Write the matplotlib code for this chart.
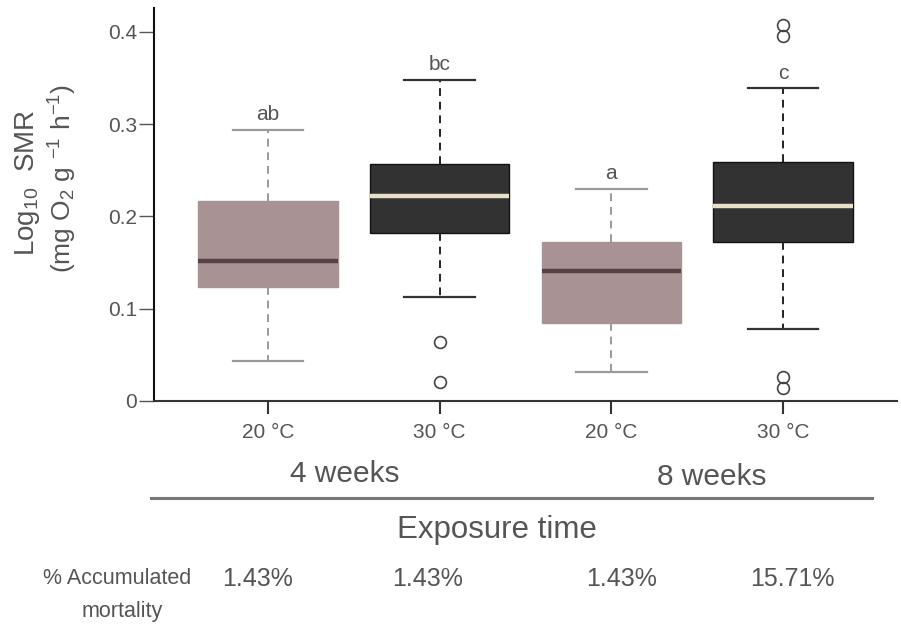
import matplotlib
matplotlib.use("Agg")
import matplotlib.pyplot as plt
from matplotlib.lines import Line2D

plt.rcParams['font.family'] = ['Liberation Sans', 'DejaVu Sans']
plt.rcParams['mathtext.default'] = 'regular'

# ---- data ----
tick_labels = ["20 °C", "30 °C", "20 °C", "30 °C"]
groups = ["4 weeks", "8 weeks"]
letters = ["ab", "bc", "a", "c"]
mortality = ["1.43%", "1.43%", "1.43%", "15.71%"]
whislo = [0.043, 0.113, 0.031, 0.078]
q1 = [0.124, 0.182, 0.085, 0.172]
med = [0.152, 0.222, 0.141, 0.211]
q3 = [0.217, 0.257, 0.172, 0.259]
whishi = [0.294, 0.348, 0.230, 0.339]
fliers = [[], [0.064, 0.021], [], [0.408, 0.396, 0.026, 0.014]]

W, H = 901, 625
fig = plt.figure(figsize=(W / 100, H / 100), dpi=100)
ax = fig.add_axes([154 / W, 1 - 401 / H, (897 - 154) / W, (401 - 8) / H])

light_fill = "#a89294"
light_med = "#5a4044"
light_wh = "#9a9a9a"
dark_fill = "#323232"
dark_med = "#e8dfc6"
txt = "#555555"

stats = []
for i in range(4):
    stats.append(dict(whislo=whislo[i], q1=q1[i], med=med[i], q3=q3[i],
                      whishi=whishi[i], fliers=fliers[i], label=tick_labels[i]))

positions = [1, 2, 3, 4]
bp = ax.bxp(stats, positions=positions, widths=0.81, patch_artist=True,
            showfliers=True, capwidths=[0.41] * 4)

for i in range(4):
    dark = i % 2 == 1
    box = bp['boxes'][i]
    if dark:
        box.set_facecolor(dark_fill)
        box.set_edgecolor("#111111")
        box.set_linewidth(1.0)
    else:
        box.set_facecolor(light_fill)
        box.set_edgecolor(light_fill)
        box.set_linewidth(1.0)
    m = bp['medians'][i]
    m.set_color(dark_med if dark else light_med)
    m.set_linewidth(3.2)
    wc = "#222222" if dark else light_wh
    for w in bp['whiskers'][2 * i:2 * i + 2]:
        w.set_color(wc)
        w.set_linewidth(1.4)
        w.set_linestyle((0, (4, 3)))
    for c in bp['caps'][2 * i:2 * i + 2]:
        c.set_color("#333333" if dark else light_wh)
        c.set_linewidth(1.6)
    f = bp['fliers'][i]
    f.set_marker('o')
    f.set_markerfacecolor('none')
    f.set_markeredgecolor('#444444')
    f.set_markeredgewidth(1.2)
    f.set_markersize(8.5)

for i in range(4):
    ax.annotate(letters[i], (positions[i], whishi[i]), xytext=(0, 4),
                textcoords='offset points', ha='center', va='bottom',
                fontsize=15, color=txt)

ax.set_xlim(0.336, 4.664)
ax.set_ylim(0, 0.426)
ax.set_yticks([0, 0.1, 0.2, 0.3, 0.4])
ax.set_yticklabels(["0", "0.1", "0.2", "0.3", "0.4"])
ax.set_xticks(positions)
ax.set_xticklabels(tick_labels)
ax.spines['top'].set_visible(False)
ax.spines['right'].set_visible(False)
ax.spines['left'].set_linewidth(1.5)
ax.spines['bottom'].set_linewidth(1.5)
ax.spines['left'].set_color('#111111')
ax.spines['bottom'].set_color('#333333')
ax.tick_params(axis='y', length=11, width=1, color='#555555', labelsize=15,
               labelcolor=txt, pad=1)
ax.tick_params(axis='x', length=9.5, width=1.5, color='#333333', labelsize=15,
               labelcolor=txt, pad=6)

# y-axis label (two lines)
fig.text(28 / W, 1 - 183 / H, "Log$_{10}$  SMR", rotation=90, ha='center',
         va='center', fontsize=20, color=txt)
fig.text(63 / W, 1 - 178 / H, "(mg O$_2$ g $^{-1}$ h$^{-1}$)", rotation=90,
         ha='center', va='center', fontsize=19, color=txt)

# group labels
fig.text(345 / W, 1 - 474 / H, groups[0], ha='center', va='center',
         fontsize=21.5, color=txt)
fig.text(712 / W, 1 - 477 / H, groups[1], ha='center', va='center',
         fontsize=21.5, color=txt)
fig.add_artist(Line2D([151 / W, 872 / W], [1 - 498 / H, 1 - 498 / H],
                      color='#777777', linewidth=2.2,
                      transform=fig.transFigure))
fig.text(497 / W, 1 - 530 / H, "Exposure time", ha='center', va='center',
         fontsize=22.5, color=txt)

# mortality row
fig.text(117 / W, 1 - 579 / H, "% Accumulated", ha='center', va='center',
         fontsize=15.5, color=txt)
fig.text(122 / W, 1 - 612 / H, "mortality", ha='center', va='center',
         fontsize=15.5, color=txt)
for xc, s in zip([258, 428, 622, 792], mortality):
    fig.text(xc / W, 1 - 579 / H, s, ha='center', va='center',
             fontsize=18, color=txt)

fig.savefig("out.png", dpi=100)
